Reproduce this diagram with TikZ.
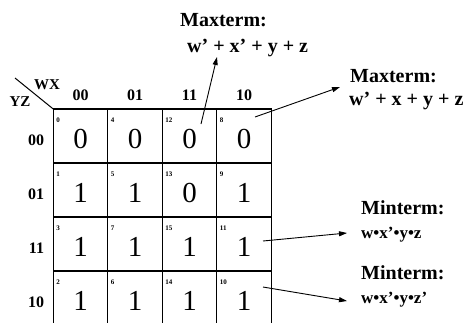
\documentclass[tikz,border=0pt]{standalone}
\usepackage{fontspec}
\setmainfont{Liberation Serif}
\usetikzlibrary{positioning,arrows.meta}

\begin{document}
\begin{tikzpicture}[
x=1pt, y=-1pt,
node distance=0pt,
cell/.style={draw, line width=1.1pt, outer sep=0pt, inner sep=0pt, minimum width=54.5pt, minimum height=54pt, text height=25pt, text depth=0pt, font=\fontsize{29}{29}\selectfont},
idx/.style={anchor=north west, inner sep=0pt, xshift=3pt, yshift=-9pt, font=\bfseries\fontsize{7}{7}\selectfont},
head/.style={inner sep=0pt, text depth=0pt, font=\bfseries\fontsize{16}{16}\selectfont},
term/.style={anchor=base west, inner sep=0pt, font=\bfseries\fontsize{20}{20}\selectfont},
expr/.style={term, font=\bfseries\fontsize{17}{17}\selectfont},
arr/.style={-{Triangle[length=8pt,width=5pt]}, line width=0.9pt}
]
\useasboundingbox (0,0) rectangle (468,322);

% the map, rows by yz, columns by wx
\node[cell, label={[idx]north west:0}] (c0) at (80.5,136) {0};
\node[cell, right=of c0, label={[idx]north west:4}] (c4) {0};
\node[cell, right=of c4, label={[idx]north west:12}] (c12) {0};
\node[cell, right=of c12, label={[idx]north west:8}] (c8) {0};
\node[cell, below=of c0, label={[idx]north west:1}] (c1) {1};
\node[cell, right=of c1, label={[idx]north west:5}] (c5) {1};
\node[cell, right=of c5, label={[idx]north west:13}] (c13) {0};
\node[cell, right=of c13, label={[idx]north west:9}] (c9) {1};
\node[cell, below=of c1, label={[idx]north west:3}] (c3) {1};
\node[cell, right=of c3, label={[idx]north west:7}] (c7) {1};
\node[cell, right=of c7, label={[idx]north west:15}] (c15) {1};
\node[cell, right=of c15, label={[idx]north west:11}] (c11) {1};
\node[cell, below=of c3, label={[idx]north west:2}] (c2) {1};
\node[cell, right=of c2, label={[idx]north west:6}] (c6) {1};
\node[cell, right=of c6, label={[idx]north west:14}] (c14) {1};
\node[cell, right=of c14, label={[idx]north west:10}] (c10) {1};

% headings
\node[head, above=8pt of c0] (wx00) {00};
\node[head, above=8pt of c4] (wx01) {01};
\node[head, above=8pt of c12] (wx11) {11};
\node[head, above=8pt of c8] (wx10) {10};
\node[head, left=9pt of c0, yshift=-4pt] (yz00) {00};
\node[head, left=9pt of c1, yshift=-4pt] (yz01) {01};
\node[head, left=9pt of c3, yshift=-4pt] (yz11) {11};
\node[head, left=9pt of c2, yshift=-4pt] (yz10) {10};
\coordinate (corner) at (15,78);
\draw[line width=1pt] (corner) -- (c0.north west);
\node[head, font=\bfseries\fontsize{15}{15}\selectfont] (wx) at (47,85) {WX};
\node[head, font=\bfseries\fontsize{15}{15}\selectfont] (yz) at (20,102) {YZ};

% terms
\node[term] (max1) at (180,26) {Maxterm:};
\node[term] (max1e) at (187,52) {w’ + x’ + y + z};
\node[term] (max2) at (350,82) {Maxterm:};
\node[term] (max2e) at (349,105) {w’ + x + y + z};
\node[term] (min1) at (361,214) {Minterm:};
\node[expr] (min1e) at (361,238) {w•x’•y•z};
\node[term] (min2) at (361,279) {Minterm:};
\node[expr] (min2e) at (361,303) {w•x’•y•z’};

\coordinate (from12) at (201,124);
\coordinate (to12) at (217,57);
\coordinate (from8) at (255,117);
\coordinate (to8) at (340,87);
\coordinate (from11) at (263,241);
\coordinate (to11) at (347,233);
\coordinate (from10) at (263,287);
\coordinate (to10) at (347,301);
\draw[arr] (from12) -- (to12);
\draw[arr] (from8) -- (to8);
\draw[arr] (from11) -- (to11);
\draw[arr] (from10) -- (to10);
\end{tikzpicture}
\end{document}
